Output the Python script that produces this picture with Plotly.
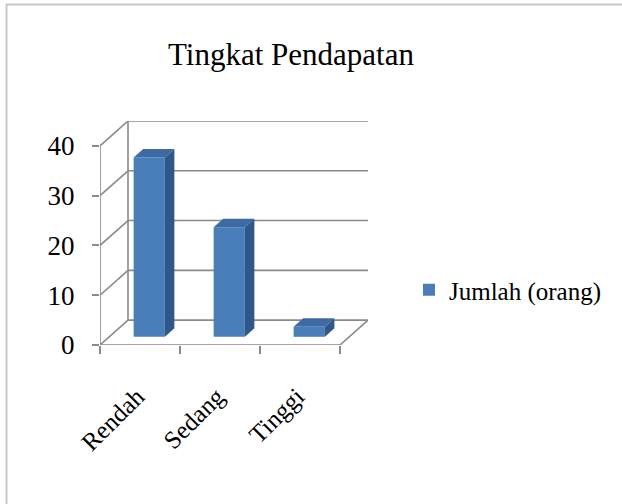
import plotly.graph_objects as go

# ---- data ----
categories = ["Rendah", "Sedang", "Tinggi"]
values = [36, 22, 2]
series_name = "Jumlah (orang)"
y_ticks = [0, 10, 20, 30, 40]
title_text = "Tingkat Pendapatan"

# ---- style / geometry ----
W, H = 622, 504
DX, DY = 0.35, 5.0          # oblique depth offset (x in category units, y in value units)
F0, F1 = 0.33, 0.67         # bar depth placement (fraction of full depth)
BW = 0.39                   # bar width in category units
X0, X1 = -0.5, len(categories) - 0.5
YMAX = max(y_ticks)
XR = [X0, X1 + DX]
YR = [0, YMAX + DY]
L, R, T, B = 100, 254, 121, 159
GRID = "#8a8a8a"
FRONT = "#4A7EBB"
SIDE = "#2F5787"
TOP = "#3D6AA5"
FONT = "Liberation Serif"

fig = go.Figure()

# front faces of bars (through the bar trace)
xs = [i + F0 * DX for i in range(len(categories))]
fig.add_trace(go.Bar(x=xs, y=values, base=[F0 * DY] * len(values), width=BW,
                     marker=dict(color=FRONT, line=dict(width=0)),
                     name=series_name, showlegend=True))

ddx, ddy = (F1 - F0) * DX, (F1 - F0) * DY
for xc, v in zip(xs, values):
    xl, xr = xc - BW / 2, xc + BW / 2
    b0, top = F0 * DY, v + F0 * DY
    # side face
    fig.add_trace(go.Scatter(x=[xr, xr + ddx, xr + ddx, xr, xr],
                             y=[b0, b0 + ddy, top + ddy, top, b0],
                             fill="toself", fillcolor=SIDE, mode="lines",
                             line=dict(width=0), showlegend=False, hoverinfo="skip"))
    # top face
    fig.add_trace(go.Scatter(x=[xl, xr, xr + ddx, xl + ddx, xl],
                             y=[top, top, top + ddy, top + ddy, top],
                             fill="toself", fillcolor=TOP, mode="lines",
                             line=dict(width=0), showlegend=False, hoverinfo="skip"))

shapes = []
def seg(x0, y0, x1, y1, color=GRID, w=1.6, ref="data"):
    xr_ = "x" if ref == "data" else "paper"
    yr_ = "y" if ref == "data" else "paper"
    shapes.append(dict(type="line", x0=x0, y0=y0, x1=x1, y1=y1, xref=xr_, yref=yr_,
                       line=dict(color=color, width=w), layer="below"))

for v in y_ticks:
    seg(X0 + DX, v + DY, X1 + DX, v + DY)       # back wall gridline
    seg(X0, v, X0 + DX, v + DY)                 # side wall diagonal
seg(X0 + DX, DY, X0 + DX, YMAX + DY)            # back wall left edge
seg(X0, 0, X0, YMAX)                            # front value axis
seg(X0, 0, X1, 0)                               # front floor edge
seg(X1, 0, X1 + DX, DY)                         # right floor edge

# chart frame (top & left visible)
def px2paper_x(p): return (p - L) / (W - L - R)
def px2paper_y(p): return (H - B - p) / (H - T - B)
seg(px2paper_x(6), px2paper_y(4.5), px2paper_x(640), px2paper_y(4.5), color="#c8c8c8", w=2, ref="paper")
seg(px2paper_x(6.5), px2paper_y(4), px2paper_x(6.5), px2paper_y(520), color="#c8c8c8", w=2, ref="paper")

fig.update_layout(
    width=W, height=H,
    margin=dict(l=L, r=R, t=T, b=B),
    paper_bgcolor="white", plot_bgcolor="rgba(0,0,0,0)",
    shapes=shapes,
    showlegend=True,
    title=dict(text=title_text, x=291 / W, xanchor="center", y=1 - 54 / H, yanchor="middle",
               font=dict(family=FONT, size=31, color="black")),
    legend=dict(x=px2paper_x(409), xanchor="left", y=px2paper_y(290), yanchor="middle",
                font=dict(family=FONT, size=25, color="black"), bgcolor="rgba(0,0,0,0)",
                itemwidth=30),
    xaxis=dict(range=XR, showgrid=False, zeroline=False, showline=False,
               tickmode="array", tickvals=list(range(len(categories))), ticktext=categories,
               tickangle=-45, ticks="", ticklabelstandoff=31, ticklabelshift=-3,
               tickfont=dict(family=FONT, size=25, color="black"),
               minor=dict(tickmode="array", tickvals=[X0 + k for k in range(len(categories) + 1)],
                          ticks="outside", ticklen=8, tickcolor=GRID, tickwidth=1.6, showgrid=False)),
    yaxis=dict(range=YR, showgrid=False, zeroline=False, showline=False,
               tickmode="array", tickvals=y_ticks, ticks="outside", ticklen=7,
               tickcolor=GRID, tickwidth=1.6, ticklabelstandoff=12,
               tickfont=dict(family=FONT, size=27, color="black")),
)

fig.write_html("out.html", config={"displayModeBar": False},
               post_script="document.body.style.margin='0';")
